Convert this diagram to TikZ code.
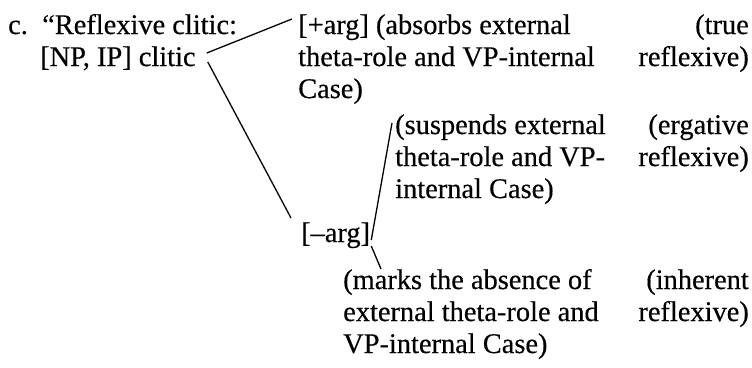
\documentclass[tikz,border=0pt]{standalone}
\usepackage{fontspec}
\setmainfont{Liberation Serif}
% slightly heavier roman face for the tree labels
\newfontface\labelface{Liberation Serif}[FakeBold=0.4]
\begin{document}
\begin{tikzpicture}[x=1pt,y=-1pt,
  txt/.style={anchor=base west,inner sep=0pt,font=\labelface\fontsize{28.4}{32}\selectfont},
  rtxt/.style={anchor=base east,inner sep=0pt,font=\labelface\fontsize{28.4}{32}\selectfont},
  branch/.style={draw=black,line width=1.3pt}]
\useasboundingbox (0,0) rectangle (752,367);
% left column: the clitic
\node[txt] (lbl) at (8,34) {c.};
\node[txt] (head1) at (42,34) {“Reflexive clitic:};
\node[txt] (head2) at (40,66) {[NP, IP] clitic};
% [+arg] branch
\node[txt] (plus1) at (298,34) {[+arg] (absorbs external};
\node[txt] (plus2) at (298,66) {theta-role and VP-internal};
\node[txt] (plus3) at (298,98) {Case)};
\node[rtxt] (true1) at (749,34) {(true};
\node[rtxt] (true2) at (749,66) {reflexive)};
% [-arg] branch and its two daughters
\node[txt] (minus) at (301,242) {[–arg]};
\node[txt] (susp1) at (395,134) {(suspends external};
\node[txt] (susp2) at (395,166) {theta-role and VP-};
\node[txt] (susp3) at (395,198) {internal Case)};
\node[rtxt] (erg1) at (749,134) {(ergative};
\node[rtxt] (erg2) at (749,166) {reflexive)};
\node[txt] (mark1) at (343,289) {(marks the absence of};
\node[txt] (mark2) at (343,321) {external theta-role and};
\node[txt] (mark3) at (343,353) {VP-internal Case)};
\node[rtxt] (inh1) at (749,289) {(inherent};
\node[rtxt] (inh2) at (749,321) {reflexive)};
% tree branches
\draw[branch] ([shift={(11,-13)}]head2.base east) -- ([shift={(-6,-15)}]plus1.base west);
\draw[branch] ([shift={(12,-4)}]head2.base east) -- ([shift={(-10,-24)}]minus.base west);
\draw[branch] ([shift={(1,-2)}]minus.base east) -- ([shift={(-3,-11)}]susp1.base west);
\draw[branch] ([shift={(1,4)}]minus.base east) -- ([shift={(38,-20)}]mark1.base west);
\end{tikzpicture}
\end{document}
